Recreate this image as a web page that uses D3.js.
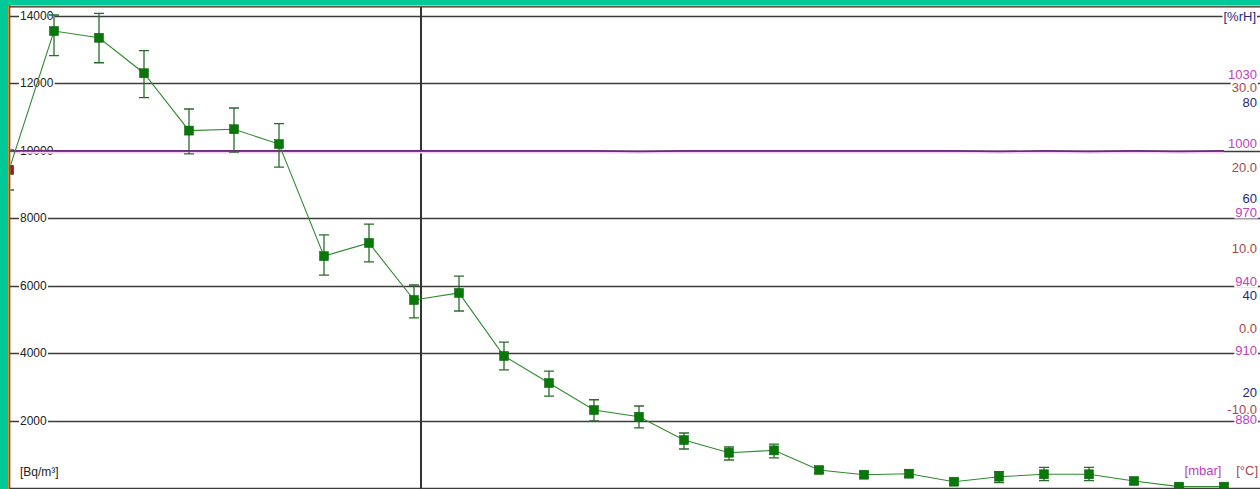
<!DOCTYPE html>
<html>
<head>
<meta charset="utf-8">
<script src="https://cdn.jsdelivr.net/npm/d3@7"></script>
<style>
  html, body { margin: 0; padding: 0; background: #00c896; }
  svg { display: block; }
  text { font-family: "Liberation Sans", Arial, sans-serif; font-size: 12px; }
</style>
</head>
<body>
<svg id="chart" width="1260" height="489"></svg>
<script>
// Radon concentration readings (Bq/m³), one per measurement interval
const radon   = [9420, 13540, 13340, 12290, 10590, 10630, 10190, 6870, 7260, 5570, 5780, 3910, 3110, 2310,
                 2110, 1420, 1045, 1115, 533, 394, 424, 187, 335, 406, 406, 207, 40, 40];
// Upper / lower ends of the uncertainty bars
const radonHi = [10020, 14015, 14065, 12960, 11230, 11260, 10795, 7500, 7820, 6015, 6280, 4325, 3465, 2615,
                 2430, 1630, 1215, 1300, 620, 480, 520, 270, 483, 613, 613, 290, 120, 120];
const radonLo = [8830, 12810, 12600, 11565, 9900, 9950, 9510, 6310, 6700, 5040, 5245, 3500, 2725, 1985,
                 1780, 1155, 830, 890, 445, 310, 330, 105, 157, 216, 216, 125, 0, 0];
// Air pressure (mbar) per interval
const pressure = [997.0, 997.0, 997.0, 997.0, 997.0, 997.0, 997.0, 997.0, 997.0, 997.0, 997.0, 997.0, 997.0, 997.0,
                  996.8, 997.0, 997.0, 997.0, 997.0, 997.0, 997.0, 997.0, 996.8, 997.0, 996.8, 997.0, 996.8, 997.0];
// Temperature (°C): only the first interval was logged
const temperature = [19.6];

// Axis tick labels
const radonTicks    = [2000, 4000, 6000, 8000, 10000, 12000, 14000];
const pressureTicks = [880, 910, 940, 970, 1000, 1030];
const tempTicks     = [-10, 0, 10, 20, 30];
const humTicks      = [20, 40, 60, 80];

const W = 1260, H = 489;
const plot = { left: 10, top: 7, right: 1260, bottom: 488 };

const svg = d3.select("#chart");

const x  = d3.scaleLinear().domain([0, 27]).range([9, 1224]);
const yR = d3.scaleLinear().domain([0, 14000]).range([488, 15.5]);
const yP = d3.scaleLinear().domain([880, 1030]).range([420, 75]);
const yT = d3.scaleLinear().domain([-10, 30]).range([408, 86]);
const yH = d3.scaleLinear().domain([0, 100]).range([488.7, 5.4]);

// Frame: white plotting area with the coloured edges
svg.append("rect").attr("x", plot.left).attr("y", 5).attr("width", W - plot.left).attr("height", H - 5).attr("fill", "#fff");
svg.append("rect").attr("x", 8).attr("y", 5).attr("width", W - 8).attr("height", 1.2).attr("fill", "#d8c060");
svg.append("rect").attr("x", 8).attr("y", 6.2).attr("width", W - 8).attr("height", 1.3).attr("fill", "#3a3020");
svg.append("rect").attr("x", 8).attr("y", 5).attr("width", 1.3).attr("height", H - 5).attr("fill", "#e08a30");
svg.append("rect").attr("x", 9.3).attr("y", 5).attr("width", 1).attr("height", H - 5).attr("fill", "#7a3a10");

svg.append("defs").append("clipPath").attr("id", "plotClip")
  .append("rect").attr("x", plot.left + 0.5).attr("y", plot.top + 0.5)
  .attr("width", plot.right - plot.left).attr("height", plot.bottom - plot.top);

// Horizontal grid lines at the radon ticks and the zero line
const grid = svg.append("g");
grid.selectAll("line").data([0].concat(radonTicks)).join("line")
  .attr("x1", plot.left).attr("x2", W)
  .attr("y1", d => Math.round(yR(d)) + 0.5).attr("y2", d => Math.round(yR(d)) + 0.5)
  .attr("stroke", "#3c3c3c").attr("stroke-width", 1.3);

// Vertical cursor line
svg.append("line").attr("x1", 421).attr("x2", 421).attr("y1", plot.top).attr("y2", H)
  .attr("stroke", "#333").attr("stroke-width", 2);

// Label helper: text with a white backing box
function label(g, txt, xPos, yPos, color, anchor, size) {
  const t = g.append("text").attr("x", xPos).attr("y", yPos).attr("dy", "0.35em")
    .attr("text-anchor", anchor).attr("fill", color).style("font-size", (size || 12) + "px").text(txt);
  const b = t.node().getBBox();
  g.insert("rect", "text").attr("x", b.x - 1).attr("y", yPos - 6.5).attr("width", b.width + 2).attr("height", 13)
    .attr("fill", "#fff");
  t.raise();
}

const labels = svg.append("g");
radonTicks.forEach(v => label(labels, String(v), 20, yR(v), "#222", "start", 12));
label(labels, "[Bq/m³]", 20, 472, "#222", "start", 12);

const navy = "#1e2a80", magenta = "#c040c0", brown = "#a84848";
humTicks.forEach(v => label(labels, String(v), 1257, yH(v), navy, "end", 13));
tempTicks.forEach(v => label(labels, v.toFixed(1), 1257, yT(v) + 1, brown, "end", 13));
pressureTicks.forEach(v => label(labels, String(v), 1257, yP(v) - 1, magenta, "end", 13));
label(labels, "[%rH]", 1256, 16, navy, "end", 13);
label(labels, "[mbar]", 1203, 470, magenta, "middle", 13);
label(labels, "[°C]", 1258, 470, brown, "end", 13);

const data = svg.append("g").attr("clip-path", "url(#plotClip)");

// Pressure trace
data.append("path").datum(pressure)
  .attr("d", d3.line().x((d, i) => x(i)).y(d => yP(d) + 1.5))
  .attr("fill", "none").attr("stroke", "#f4d0f4").attr("stroke-width", 2);
data.append("path").datum(pressure)
  .attr("d", d3.line().x((d, i) => x(i)).y(d => yP(d)))
  .attr("fill", "none").attr("stroke", "#6a2c7a").attr("stroke-width", 1.6);

// Radon trace with uncertainty bars
data.append("path").datum(radon)
  .attr("d", d3.line().x((d, i) => x(i)).y(d => yR(d)))
  .attr("fill", "none").attr("stroke", "#2e8a2e").attr("stroke-width", 1.1);

const bars = data.append("g").attr("stroke", "#2a6a2a").attr("stroke-width", 1.3);
radon.forEach((v, i) => {
  const cx = x(i), y1 = yR(radonHi[i]), y2 = yR(radonLo[i]);
  bars.append("line").attr("x1", cx).attr("x2", cx).attr("y1", y1).attr("y2", y2);
  bars.append("line").attr("x1", cx - 5).attr("x2", cx + 5).attr("y1", y1).attr("y2", y1);
  bars.append("line").attr("x1", cx - 5).attr("x2", cx + 5).attr("y1", y2).attr("y2", y2);
});

data.selectAll("rect.radon").data(radon).join("rect").attr("class", "radon")
  .attr("x", (d, i) => x(i) - 4.5).attr("y", d => yR(d) - 4.5)
  .attr("width", 9).attr("height", 9).attr("fill", "#087808").attr("stroke", "#0a5a0a").attr("stroke-width", 0.5);

// Temperature reading
data.selectAll("rect.temp").data(temperature).join("rect").attr("class", "temp")
  .attr("x", (d, i) => x(i) - 4.5).attr("y", d => yT(d) - 4.5)
  .attr("width", 9).attr("height", 9).attr("fill", "#a01818");
</script>
</body>
</html>
